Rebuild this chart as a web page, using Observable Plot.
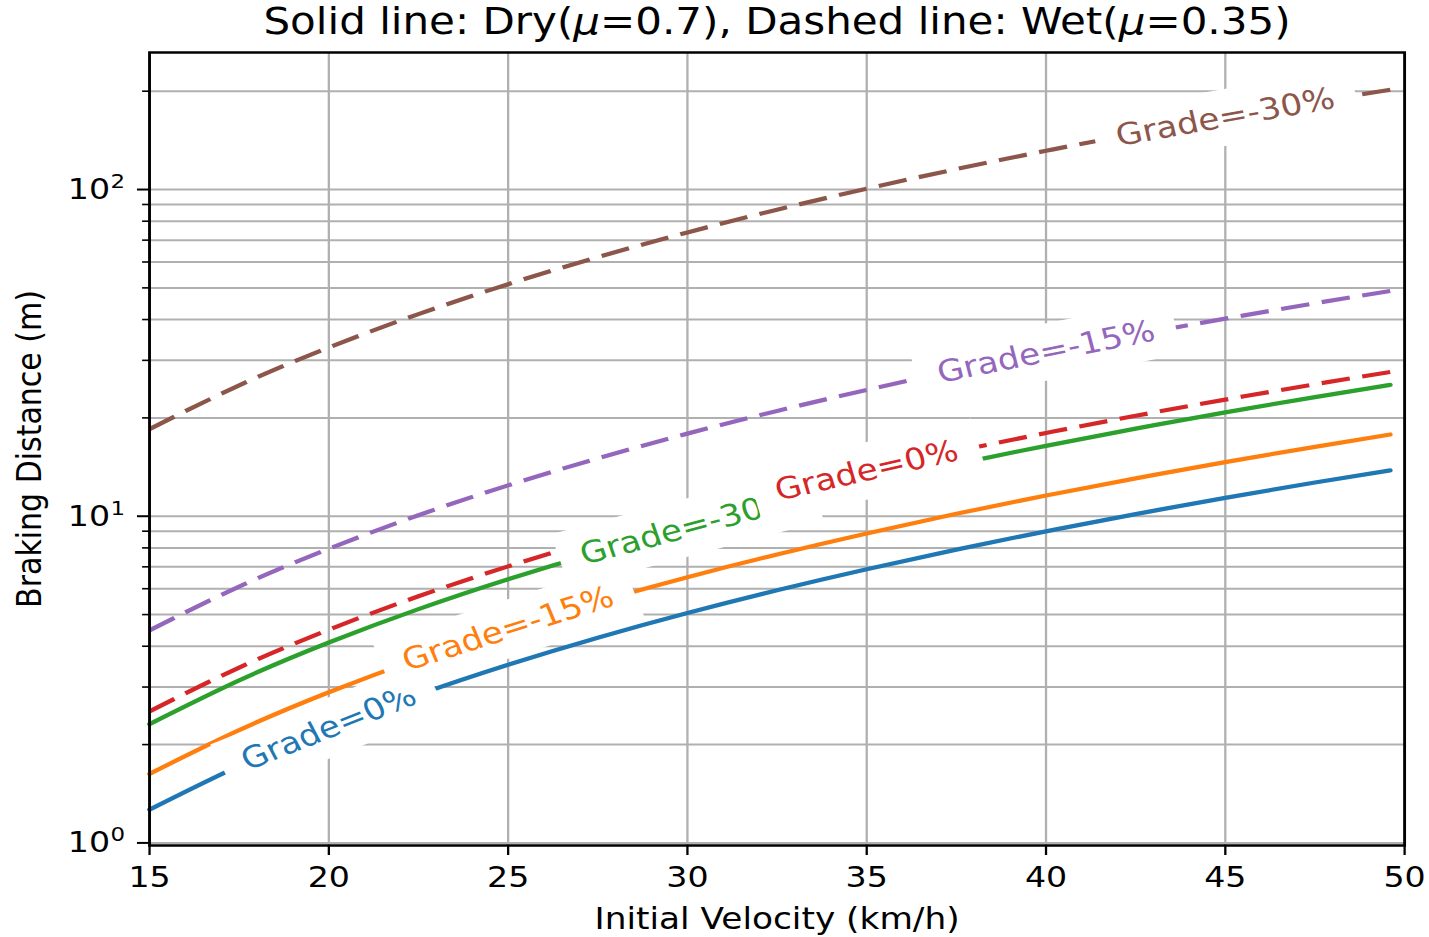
<!DOCTYPE html>
<html><head><meta charset="utf-8">
<script src="https://cdn.jsdelivr.net/npm/d3@7"></script>
<script src="https://cdn.jsdelivr.net/npm/@observablehq/plot@0.6"></script>
<style>
html,body{margin:0;padding:0;background:#fff;overflow:hidden;}
#title{position:relative;width:1429px;height:44px;font-family:"DejaVu Sans";font-size:36.7px;color:#000;white-space:nowrap;}
#title span{position:absolute;left:776.5px;top:0;line-height:44px;transform:translateX(-50%) scaleX(1.145);transform-origin:center;}
#chart svg{display:block;}
</style></head>
<body>
<div id="title"><span>Solid line: Dry(<i>μ</i>=0.7), Dashed line: Wet(<i>μ</i>=0.35)</span></div>
<div id="chart"></div>
<script>
// ---- data ----
const velocity = [15, 17.5, 20, 22.5, 25, 27.5, 30, 32.5, 35, 37.5, 40, 42.5, 45, 47.5, 49.6];
const dryGrade0   = [1.264, 1.721, 2.247, 2.844, 3.511, 4.249, 5.057, 5.934, 6.882, 7.901, 8.989, 10.15, 11.38, 12.68, 13.82];
const dryGrade15  = [1.627, 2.214, 2.892, 3.660, 4.519, 5.468, 6.508, 7.637, 8.857, 10.17, 11.57, 13.06, 14.64, 16.31, 17.79];
const dryGrade30  = [2.310, 3.144, 4.106, 5.197, 6.416, 7.763, 9.238, 10.84, 12.57, 14.44, 16.42, 18.54, 20.79, 23.16, 25.25];
const wetGrade0   = [2.528, 3.441, 4.495, 5.688, 7.023, 8.498, 10.11, 11.87, 13.77, 15.80, 17.98, 20.30, 22.75, 25.35, 27.64];
const wetGrade15  = [4.474, 6.089, 7.953, 10.07, 12.43, 15.04, 17.90, 21.00, 24.36, 27.96, 31.81, 35.92, 40.26, 44.86, 48.92];
const wetGrade30  = [18.48, 25.15, 32.85, 41.57, 51.32, 62.10, 73.91, 86.74, 100.6, 115.5, 131.4, 148.3, 166.3, 185.3, 202.0];

const seriesValues = [dryGrade0, dryGrade15, dryGrade30, wetGrade0, wetGrade15, wetGrade30];
const seriesColors = ["#1f77b4", "#ff7f0e", "#2ca02c", "#d62728", "#9467bd", "#8c564b"];
const seriesDashed = [false, false, false, true, true, true];
const labelTexts = ["Grade=0%", "Grade=-15%", "Grade=-30%", "Grade=0%", "Grade=-15%", "Grade=-30%"];
const labelVelocity = [20, 25, 30, 35, 40, 45];

const xTicks = [15, 20, 25, 30, 35, 40, 45, 50];
const yMajorTicks = [1, 10, 100];
const yMajorBase = "10";
const yMajorExponents = ["0", "1", "2"];
const yMinorTicks = [2, 3, 4, 5, 6, 7, 8, 9, 20, 30, 40, 50, 60, 70, 80, 90, 200];
const xDomain = [15, 50];
const yDomain = [0.982, 262.7];
const xLabel = "Initial Velocity (km/h)";
const yLabel = "Braking Distance (m)";

// ---- layout (logical, stretched horizontally like the reference) ----
const W = 1248, H = 893;
const mL = 130.1, mR = 21.8, mT = 8, mB = 92;
const tickFont = 29, labelFont = 30;

const xs = d3.scaleLinear(xDomain, [mL, W - mR]);
const ys = d3.scaleLog(yDomain, [H - mB, mT]);

const ctx = document.createElement("canvas").getContext("2d");
ctx.font = `${labelFont}px "DejaVu Sans"`;

const lineMarks = seriesValues.map((vals, s) =>
  Plot.line(velocity.map((v, i) => ({v, d: vals[i]})), {
    x: "v", y: "d", stroke: seriesColors[s], strokeWidth: 4.2, curve: "natural",
    strokeDasharray: seriesDashed[s] ? "25,11" : null,
    strokeLinecap: seriesDashed[s] ? "butt" : "round"
  })
);

const labelMarks = [];
seriesValues.forEach((vals, s) => {
  const idx = velocity.indexOf(labelVelocity[s]);
  const v = velocity[idx], d = vals[idx];
  const px = xs(v), py = ys(d);
  const ang = Math.atan2(ys(vals[idx + 1]) - ys(vals[idx - 1]), xs(velocity[idx + 1]) - xs(velocity[idx - 1]));
  const half = ctx.measureText(labelTexts[s]).width / 2 + 19;
  const c = Math.cos(ang), sn = Math.sin(ang);
  const box = {
    x1: xs.invert(px - half * c), y1: ys.invert(py - half * sn),
    x2: xs.invert(px + half * c), y2: ys.invert(py + half * sn)
  };
  labelMarks.push(Plot.link([box], {x1: "x1", y1: "y1", x2: "x2", y2: "y2", stroke: "white", strokeWidth: 56, strokeLinecap: "butt"}));
  labelMarks.push(Plot.text([{v, d, t: labelTexts[s]}], {
    x: "v", y: "d", text: "t", rotate: ang * 180 / Math.PI, fill: seriesColors[s],
    fontSize: labelFont, textAnchor: "middle", lineAnchor: "middle"
  }));
});

const svg = Plot.plot({
  width: W, height: H,
  marginLeft: mL, marginRight: mR, marginTop: mT, marginBottom: mB,
  style: {fontFamily: "DejaVu Sans", color: "black", background: "white", overflow: "visible"},
  x: {domain: xDomain},
  y: {type: "log", domain: yDomain},
  marks: [
    Plot.gridY([...yMajorTicks, ...yMinorTicks], {stroke: "#b0b0b0", strokeOpacity: 1, strokeWidth: 2}),
    Plot.gridX(xTicks, {stroke: "#b0b0b0", strokeOpacity: 1, strokeWidth: 2}),
    ...lineMarks,
    ...labelMarks,
    Plot.frame({stroke: "black", strokeWidth: 2.5}),
    Plot.axisX(xTicks, {anchor: "bottom", tickSize: 10, tickPadding: 11, fontSize: tickFont, strokeWidth: 2, label: null, tickFormat: d => String(d)}),
    Plot.axisY(yMajorTicks, {anchor: "left", tickSize: 10.5, tickPadding: 24, fontSize: tickFont, strokeWidth: 2, label: null,
      tickFormat: () => yMajorBase}),
    Plot.text(yMajorTicks, {frameAnchor: "left", y: d => d, text: (d, i) => yMajorExponents[i], dx: -34, dy: -8,
      fontSize: 20, textAnchor: "start", lineAnchor: "middle"}),
    Plot.axisY(yMinorTicks, {anchor: "left", tickSize: 6, strokeWidth: 1.6, label: null, tickFormat: () => ""}),
    Plot.text([xLabel], {frameAnchor: "bottom", dy: 74, text: d => d, fontSize: labelFont, textAnchor: "middle", lineAnchor: "middle"}),
    Plot.text([yLabel], {frameAnchor: "left", dx: -104, rotate: -90, text: d => d, fontSize: labelFont, textAnchor: "middle", lineAnchor: "middle"})
  ]
});
svg.setAttribute("width", 1429);
svg.setAttribute("height", H);
svg.setAttribute("preserveAspectRatio", "none");
svg.style.width = "1429px";
svg.style.height = H + "px";
svg.style.maxWidth = "none";
document.getElementById("chart").appendChild(svg);
</script>
</body></html>
